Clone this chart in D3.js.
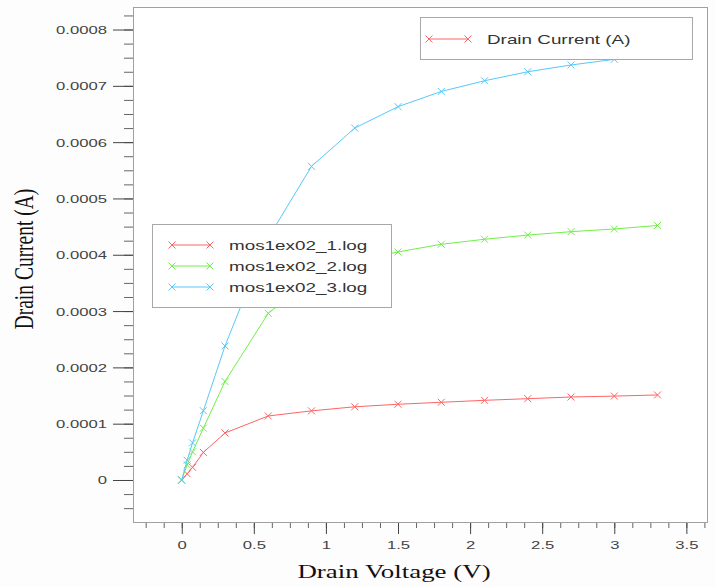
<!DOCTYPE html>
<html>
<head>
<meta charset="utf-8">
<script src="https://cdn.jsdelivr.net/npm/d3@7"></script>
<style>
  html, body { margin: 0; padding: 0; background: #fdfdfd; }
  svg { display: block; }
</style>
</head>
<body>
<div id="chart"></div>
<script>
// drain voltage sweep (V)
var drainVoltage = [0, 0.0375, 0.075, 0.15, 0.3, 0.6, 0.9, 1.2, 1.5, 1.8, 2.1, 2.4, 2.7, 3.0, 3.3];
// drain current (A) per log file
var current1 = [0, 0.000011, 0.0000225, 0.000049, 0.0000835, 0.0001137, 0.0001228, 0.00013, 0.0001345, 0.000138, 0.0001415, 0.0001444, 0.0001474, 0.000149, 0.000151];
var current2 = [0, 0.000027, 0.00005, 0.000092, 0.000175, 0.000296, 0.000356, 0.000388, 0.000405, 0.0004186, 0.0004275, 0.000435, 0.000441, 0.0004458, 0.000452];
var current3 = [0, 0.000035, 0.000066, 0.000123, 0.000238, 0.00043, 0.000557, 0.000625, 0.000663, 0.00069, 0.000709, 0.000725, 0.000737, 0.000747, 0.000755];
var seriesNames = ['mos1ex02_1.log', 'mos1ex02_2.log', 'mos1ex02_3.log'];
var seriesColors = ['#ff6464', '#72ee4a', '#58c8fa'];

var xTicks = [0, 0.5, 1, 1.5, 2, 2.5, 3, 3.5];
var xTickLabels = ['0', '0.5', '1', '1.5', '2', '2.5', '3', '3.5'];
var yTicks = [0, 0.0001, 0.0002, 0.0003, 0.0004, 0.0005, 0.0006, 0.0007, 0.0008];
var yTickLabels = ['0', '0.0001', '0.0002', '0.0003', '0.0004', '0.0005', '0.0006', '0.0007', '0.0008'];

var W = 715, H = 587;
var plotLeft = 133, plotRight = 707, plotTop = 7, plotBottom = 522;
var stretch = 1.45; // the picture is wide, text looks stretched

var svg = d3.select('#chart').append('svg')
    .attr('width', W)
    .attr('height', H);

var x = d3.scaleLinear().domain([-0.338, 3.643]).range([plotLeft, plotRight]);
var y = d3.scaleLinear().domain([-0.0000746, 0.00084]).range([plotBottom, plotTop]);

svg.append('rect')
    .attr('x', plotLeft).attr('y', plotTop)
    .attr('width', plotRight - plotLeft).attr('height', plotBottom - plotTop)
    .attr('fill', '#ffffff');

// minor ticks
var xMinor = d3.range(-0.25, 3.64, 0.125);
var yMinor = d3.range(-0.00005, 0.00083, 0.000025);

svg.append('g')
    .attr('transform', 'translate(0,' + plotBottom + ')')
    .call(d3.axisBottom(x).tickValues(xMinor).tickSize(6).tickFormat(''))
    .call(function (g) { g.select('.domain').remove(); })
    .selectAll('line').attr('stroke', '#666');

svg.append('g')
    .attr('transform', 'translate(' + plotLeft + ',0)')
    .call(d3.axisLeft(y).tickValues(yMinor).tickSize(9).tickFormat(''))
    .call(function (g) { g.select('.domain').remove(); })
    .selectAll('line').attr('stroke', '#666');

// major ticks
var xAxis = svg.append('g')
    .attr('transform', 'translate(0,' + plotBottom + ')')
    .call(d3.axisBottom(x).tickValues(xTicks).tickSize(12)
        .tickFormat(function (d, i) { return xTickLabels[i]; }));
xAxis.select('.domain').remove();
xAxis.selectAll('line').attr('stroke', '#444');
xAxis.selectAll('text')
    .attr('y', 0).attr('dy', 0)
    .attr('transform', 'translate(0,27) scale(' + stretch + ',1)')
    .attr('fill', '#444')
    .style('font-family', '"Liberation Sans", Arial, sans-serif')
    .style('font-size', '11.5px');

var yAxis = svg.append('g')
    .attr('transform', 'translate(' + plotLeft + ',0)')
    .call(d3.axisLeft(y).tickValues(yTicks).tickSize(20)
        .tickFormat(function (d, i) { return yTickLabels[i]; }));
yAxis.select('.domain').remove();
yAxis.selectAll('line').attr('stroke', '#444');
yAxis.selectAll('text')
    .attr('x', 0).attr('dy', 0)
    .attr('transform', 'translate(-26,4) scale(' + stretch + ',1)')
    .attr('fill', '#444')
    .style('font-family', '"Liberation Sans", Arial, sans-serif')
    .style('font-size', '11.5px');

// frame
svg.append('rect')
    .attr('x', plotLeft + 0.5).attr('y', plotTop + 0.5)
    .attr('width', plotRight - plotLeft).attr('height', plotBottom - plotTop)
    .attr('fill', 'none')
    .attr('stroke', '#a0a0a0');

// series
var series = [current1, current2, current3].map(function (vals, i) {
    return {
        name: seriesNames[i],
        color: seriesColors[i],
        points: vals.map(function (v, j) { return [drainVoltage[j], v]; })
    };
});

var line = d3.line()
    .x(function (d) { return x(d[0]); })
    .y(function (d) { return y(d[1]); });

function cross(g, cx, cy, color) {
    var s = 3.5;
    g.append('path')
        .attr('d', 'M' + (cx - s) + ',' + (cy - s) + 'L' + (cx + s) + ',' + (cy + s) +
                   'M' + (cx - s) + ',' + (cy + s) + 'L' + (cx + s) + ',' + (cy - s))
        .attr('stroke', color)
        .attr('stroke-width', 1)
        .attr('fill', 'none');
}

series.forEach(function (s) {
    var g = svg.append('g');
    g.append('path')
        .datum(s.points)
        .attr('d', line)
        .attr('fill', 'none')
        .attr('stroke', s.color)
        .attr('stroke-width', 1);
    s.points.forEach(function (p) {
        cross(g, x(p[0]), y(p[1]), s.color);
    });
});

function stretchedText(parent, tx, ty, str, size, anchor, color) {
    return parent.append('text')
        .attr('transform', 'translate(' + tx + ',' + ty + ') scale(' + stretch + ',1)')
        .attr('text-anchor', anchor)
        .attr('fill', color)
        .style('font-family', '"Liberation Sans", Arial, sans-serif')
        .style('font-size', size + 'px')
        .text(str);
}

// legend with the log files
var leg = svg.append('g');
leg.append('rect')
    .attr('x', 152.5).attr('y', 224.5)
    .attr('width', 239).attr('height', 83)
    .attr('fill', '#ffffff')
    .attr('stroke', '#a8a8a8');
series.forEach(function (s, i) {
    var ly = 245 + i * 21;
    leg.append('line')
        .attr('x1', 172).attr('x2', 210)
        .attr('y1', ly).attr('y2', ly)
        .attr('stroke', s.color);
    cross(leg, 172, ly, s.color);
    cross(leg, 210, ly, s.color);
    stretchedText(leg, 229, ly + 4.5, s.name, 13, 'start', '#333');
});

// legend for the quantity
var leg2 = svg.append('g');
leg2.append('rect')
    .attr('x', 420.5).attr('y', 17.5)
    .attr('width', 272).attr('height', 42)
    .attr('fill', '#ffffff')
    .attr('stroke', '#a8a8a8');
leg2.append('line')
    .attr('x1', 429).attr('x2', 468)
    .attr('y1', 39).attr('y2', 39)
    .attr('stroke', seriesColors[0]);
cross(leg2, 429, 39, seriesColors[0]);
cross(leg2, 468, 39, seriesColors[0]);
stretchedText(leg2, 487, 43.5, 'Drain Current (A)', 13, 'start', '#333');

// axis titles
svg.append('text')
    .attr('transform', 'translate(394,578) scale(1.38,1)')
    .attr('text-anchor', 'middle')
    .attr('fill', '#111')
    .style('font-family', '"Liberation Serif", "Times New Roman", serif')
    .style('font-size', '19.5px')
    .text('Drain Voltage (V)');

svg.append('text')
    .attr('transform', 'translate(33,259) scale(1.38,1) rotate(-90)')
    .attr('text-anchor', 'middle')
    .attr('fill', '#111')
    .style('font-family', '"Liberation Serif", "Times New Roman", serif')
    .style('font-size', '19.5px')
    .text('Drain Current (A)');
</script>
</body>
</html>
